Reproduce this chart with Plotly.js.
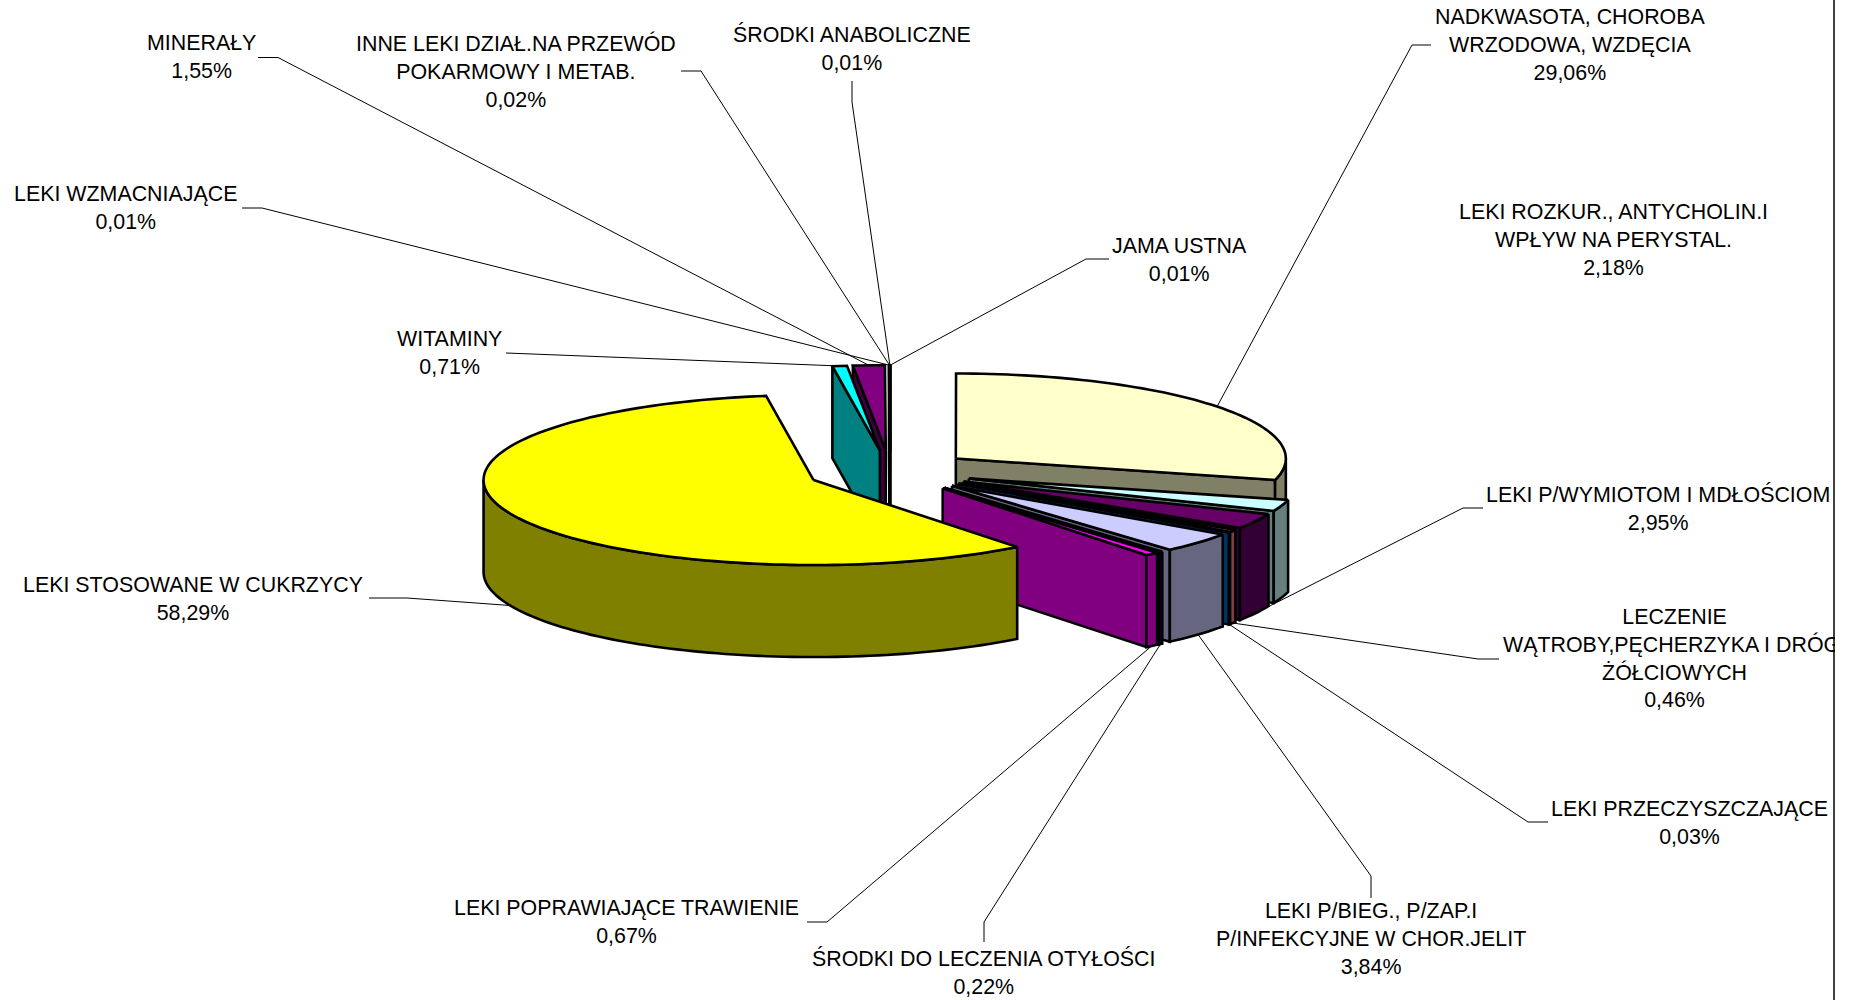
<!DOCTYPE html>
<html>
<head>
<meta charset="utf-8">
<script src="https://cdn.plot.ly/plotly-3.0.1.min.js"></script>
<style>html,body{margin:0;padding:0;background:#fff;overflow:hidden}</style>
</head>
<body>
<div id="chart" style="width:1835px;height:1000px"></div>
<script>
// ---- data, clockwise from the start of the yellow slice ----
const names = [
  "LEKI STOSOWANE W CUKRZYCY", "WITAMINY", "MINERAŁY", "LEKI WZMACNIAJĄCE",
  "INNE LEKI DZIAŁ.NA PRZEWÓD<br>POKARMOWY I METAB.", "ŚRODKI ANABOLICZNE", "JAMA USTNA",
  "NADKWASOTA, CHOROBA<br>WRZODOWA, WZDĘCIA", "LEKI ROZKUR., ANTYCHOLIN.I<br>WPŁYW NA PERYSTAL.",
  "LEKI P/WYMIOTOM I MDŁOŚCIOM", "LECZENIE<br>WĄTROBY,PĘCHERZYKA I DRÓG\u00A0<br>ŻÓŁCIOWYCH",
  "LEKI PRZECZYSZCZAJĄCE", "LEKI P/BIEG., P/ZAP.I<br>P/INFEKCYJNE W CHOR.JELIT",
  "ŚRODKI DO LECZENIA OTYŁOŚCI", "LEKI POPRAWIAJĄCE TRAWIENIE"
];
const shares = [58.29, 0.71, 1.55, 0.01, 0.02, 0.01, 0.01, 29.06, 2.18, 2.95, 0.46, 0.03, 3.84, 0.22, 0.67];
const shareLabels = ["58,29%","0,71%","1,55%","0,01%","0,02%","0,01%","0,01%","29,06%","2,18%","2,95%","0,46%","0,03%","3,84%","0,22%","0,67%"];
const topColors = ["#FFFF00","#00FFFF","#800080","#800000","#008080","#0000FF","#00CCFF","#FFFFCC","#CCFFFF","#660066","#FF8080","#0066CC","#CCCCFF","#000080","#FF00FF"];
const wallColors = ["#808000","#008080","#400040","#400000","#004040","#000080","#006680","#808066","#668080","#330033","#804040","#003366","#666680","#000040","#800080"];

// ---- label layout ----
const labelX = [193,449,201,125,515.7,852,1179,1570.8,1613,1658,1674,1689,1371,984,626];
const labelY = [598.5,352.5,57,207.5,71,48,259.5,45,239.5,508,658,823,939,972,921.5];
const tailX  = [369,506,258,242,681,852,1109,1431,null,1483,1499,1548,1371,984,807];
const tailY  = [598,353,57.5,208,71,81,259,45,null,508,659,822,898,942,922];
const elbowX = [407,506,278,262,701,852,1086,1412,null,1463,1478,1528,1371,984,827];
const elbowY = [598,353,57.5,208,71,102,259,45,null,508,659,822,876,922,922];

// ---- projection of the exploded 3-D pie ----
const cx = 890, cy = 471.6, rx = 330, ry = 85, depth = 92, burst = 0.252, startDeg = 141.9;
const drawOrder = [6,5,4,3,2,1,7,8,9,10,11,12,13,14,0];
const rad = d => d * Math.PI / 180;
const total = shares.reduce((a, b) => a + b, 0);
let acc = startDeg;
const slices = shares.map((s, i) => {
  let a0 = acc, a1 = acc + s / total * 360; acc = a1;
  if (a0 >= 360) { a0 -= 360; a1 -= 360; }
  const m = (a0 + a1) / 2;
  return {i, a0, a1, m,
    ox: cx + burst * rx * Math.sin(rad(m)),
    oy: cy - burst * ry * Math.cos(rad(m))};
});
const rim = (sl, d, dz) => [sl.ox + rx * Math.sin(rad(d)), sl.oy - ry * Math.cos(rad(d)) + (dz || 0)];
const poly = (pts, fill) => ({
  x: pts.map(p => p[0]), y: pts.map(p => p[1]), type: 'scatter', mode: 'lines',
  fill: 'toself', fillcolor: fill, line: {color: '#000', width: 2.6, simplify: false},
  hoverinfo: 'skip', showlegend: false
});
const arc = (sl, from, to, dz) => {
  const n = Math.max(2, Math.ceil(Math.abs(to - from) / 1.5)), out = [];
  for (let k = 0; k <= n; k++) out.push(rim(sl, from + (to - from) * k / n, dz));
  return out;
};

const traces = [];
// leader lines sit under the pie and end on the slice rim
slices.forEach(sl => {
  if (tailX[sl.i] === null) return;
  const norm = ((sl.m % 360) + 360) % 360;
  const end = rim(sl, sl.m, norm > 90 && norm < 270 ? depth : 0);
  traces.push({
    x: [tailX[sl.i], elbowX[sl.i], end[0]], y: [tailY[sl.i], elbowY[sl.i], end[1]],
    type: 'scatter', mode: 'lines', line: {color: '#000', width: 1},
    hoverinfo: 'skip', showlegend: false
  });
});
// slices, painted back to front
drawOrder.forEach(i => {
  const sl = slices[i], col = wallColors[i];
  const apex = [sl.ox, sl.oy], apexB = [sl.ox, sl.oy + depth];
  if (Math.sin(rad(sl.a0)) < 0) {
    const p = rim(sl, sl.a0);
    traces.push(poly([apex, p, [p[0], p[1] + depth], apexB, apex], col));
  }
  if (Math.sin(rad(sl.a1)) > 0) {
    const p = rim(sl, sl.a1);
    traces.push(poly([apex, p, [p[0], p[1] + depth], apexB, apex], col));
  }
  const from = Math.max(sl.a0, 90), to = Math.min(sl.a1, 270);
  if (to > from) {
    const up = arc(sl, from, to, 0), dn = arc(sl, to, from, depth);
    traces.push(poly(up.concat(dn, [up[0]]), col));
  }
  traces.push(poly([apex].concat(arc(sl, sl.a0, sl.a1, 0), [apex]), topColors[i]));
});

const annotations = names.map((n, i) => ({
  x: labelX[i], y: labelY[i], xref: 'x', yref: 'y', text: n + '<br>' + shareLabels[i],
  showarrow: false, xanchor: 'center', yanchor: 'middle', align: 'center',
  font: {family: 'Liberation Sans, Arial, sans-serif', size: 21.4, color: '#000'}
}));

const hidden = {visible: false, showgrid: false, zeroline: false, fixedrange: true};
Plotly.newPlot('chart', traces, {
  width: 1835, height: 1000, margin: {l: 0, r: 0, t: 0, b: 0},
  paper_bgcolor: '#fff', plot_bgcolor: '#fff', showlegend: false,
  xaxis: Object.assign({range: [0, 1835]}, hidden),
  yaxis: Object.assign({range: [1000, 0]}, hidden),
  annotations,
  shapes: [{type: 'line', xref: 'x', yref: 'y', x0: 1834, x1: 1834, y0: 0, y1: 1000,
            line: {color: '#404040', width: 2}}]
}, {displayModeBar: false, staticPlot: true});
</script>
</body>
</html>
